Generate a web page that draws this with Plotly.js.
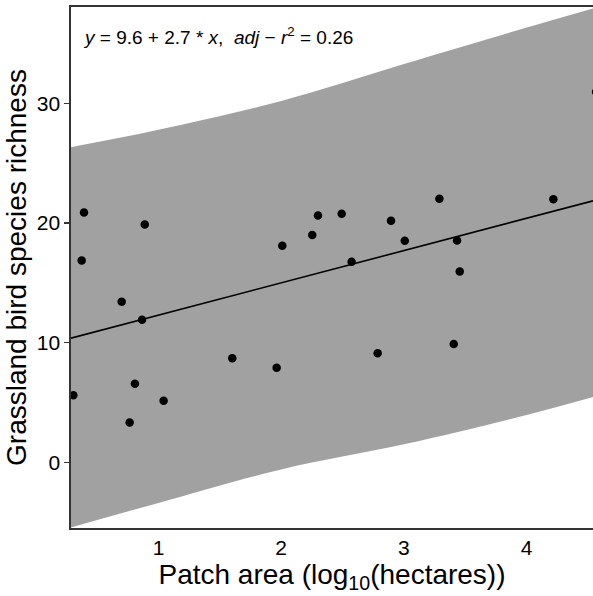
<!DOCTYPE html>
<html>
<head>
<meta charset="utf-8">
<script src="https://cdn.plot.ly/plotly-3.0.1.min.js"></script>
<style>html,body{margin:0;padding:0;background:#fff;}#chart{width:593px;height:596px;}</style>
</head>
<body>
<div id="chart"></div>
<script>
// Observed patches: log10 patch area (hectares) and grassland bird species richness
const patchArea = [0.393, 0.888, 0.374, 0.700, 0.866, 0.306, 0.808, 1.042, 0.765, 1.601,
                   1.963, 2.009, 2.253, 2.300, 2.493, 2.574, 2.786, 2.895, 3.007, 3.289,
                   3.406, 3.433, 3.455, 4.218, 4.566];
const richness  = [20.89, 19.88, 16.88, 13.43, 11.92, 5.60, 6.57, 5.15, 3.32, 8.69,
                   7.91, 18.10, 19.00, 20.63, 20.78, 16.77, 9.11, 20.19, 18.52, 22.03,
                   9.89, 18.55, 15.96, 22.00, 30.97];

// Fitted model (from the chart annotation)
const intercept = 9.6;
const slope = 2.7;
const adjR2 = 0.26;

// Prediction band edges
const bandX     = [0.287, 1.0, 2.0, 3.0, 4.0, 4.541];
const bandUpper = [26.35, 27.8, 30.2, 33.3, 36.35, 37.95];
const bandLower = [-5.45, -3.4, -0.6, 1.5, 3.95, 5.45];

// Axis ranges and ticks
const xRange = [0.287, 4.541];
const yRange = [-5.5, 38.07];
const xTicks = [1, 2, 3, 4];
const yTicks = [0, 10, 20, 30];

const lineX = [xRange[0], xRange[1]];
const lineY = lineX.map(v => intercept + slope * v);

const font = 'Liberation Sans, Arial, sans-serif';

const traces = [
  {x: bandX, y: bandLower, type: 'scatter', mode: 'lines', line: {width: 0, shape: 'spline', color: 'rgba(0,0,0,0)'}, hoverinfo: 'skip', showlegend: false},
  {x: bandX, y: bandUpper, type: 'scatter', mode: 'lines', fill: 'tonexty', fillcolor: '#a1a1a1', line: {width: 0, shape: 'spline', color: 'rgba(0,0,0,0)'}, hoverinfo: 'skip', showlegend: false},
  {x: lineX, y: lineY, type: 'scatter', mode: 'lines', line: {color: '#000', width: 1.6}, showlegend: false},
  {x: patchArea, y: richness, type: 'scatter', mode: 'markers', marker: {color: '#000', size: 8.5}, cliponaxis: true, showlegend: false}
];

const layout = {
  width: 593, height: 596,
  margin: {l: 71, r: 0, t: 7, b: 68},
  paper_bgcolor: '#fff', plot_bgcolor: '#fff',
  showlegend: false,
  font: {family: font, color: '#000'},
  xaxis: {
    range: xRange, tickvals: xTicks, ticktext: xTicks.map(String),
    showgrid: false, zeroline: false,
    showline: true, linecolor: '#333', linewidth: 1.6, mirror: true,
    ticks: '', tickfont: {size: 21, color: '#000'},
    title: {text: 'Patch area (log<sub>10</sub>(hectares))', font: {size: 28, color: '#000'}, standoff: 2}
  },
  yaxis: {
    range: yRange, tickvals: yTicks, ticktext: yTicks.map(String),
    showgrid: false, zeroline: false,
    showline: true, linecolor: '#333', linewidth: 1.6, mirror: false,
    ticks: 'outside', ticklen: 5, tickwidth: 1.2, tickcolor: '#333',
    tickfont: {size: 21, color: '#000'},
    title: {text: 'Grassland bird species richness', font: {size: 28, color: '#000'}, standoff: 2}
  },
  annotations: [{
    xref: 'paper', yref: 'paper', x: 0.02, y: 0.944, xanchor: 'left', yanchor: 'middle',
    showarrow: false,
    text: '<i>y</i> = 9.6 + ' + slope.toFixed(1) + ' * <i>x</i>,  <i>adj</i> \u2212 <i>r</i><sup>2</sup> = ' + adjR2.toFixed(2),
    font: {size: 19, color: '#000', family: font}
  }]
};

Plotly.newPlot('chart', traces, layout, {displayModeBar: false, staticPlot: true});
</script>
</body>
</html>
